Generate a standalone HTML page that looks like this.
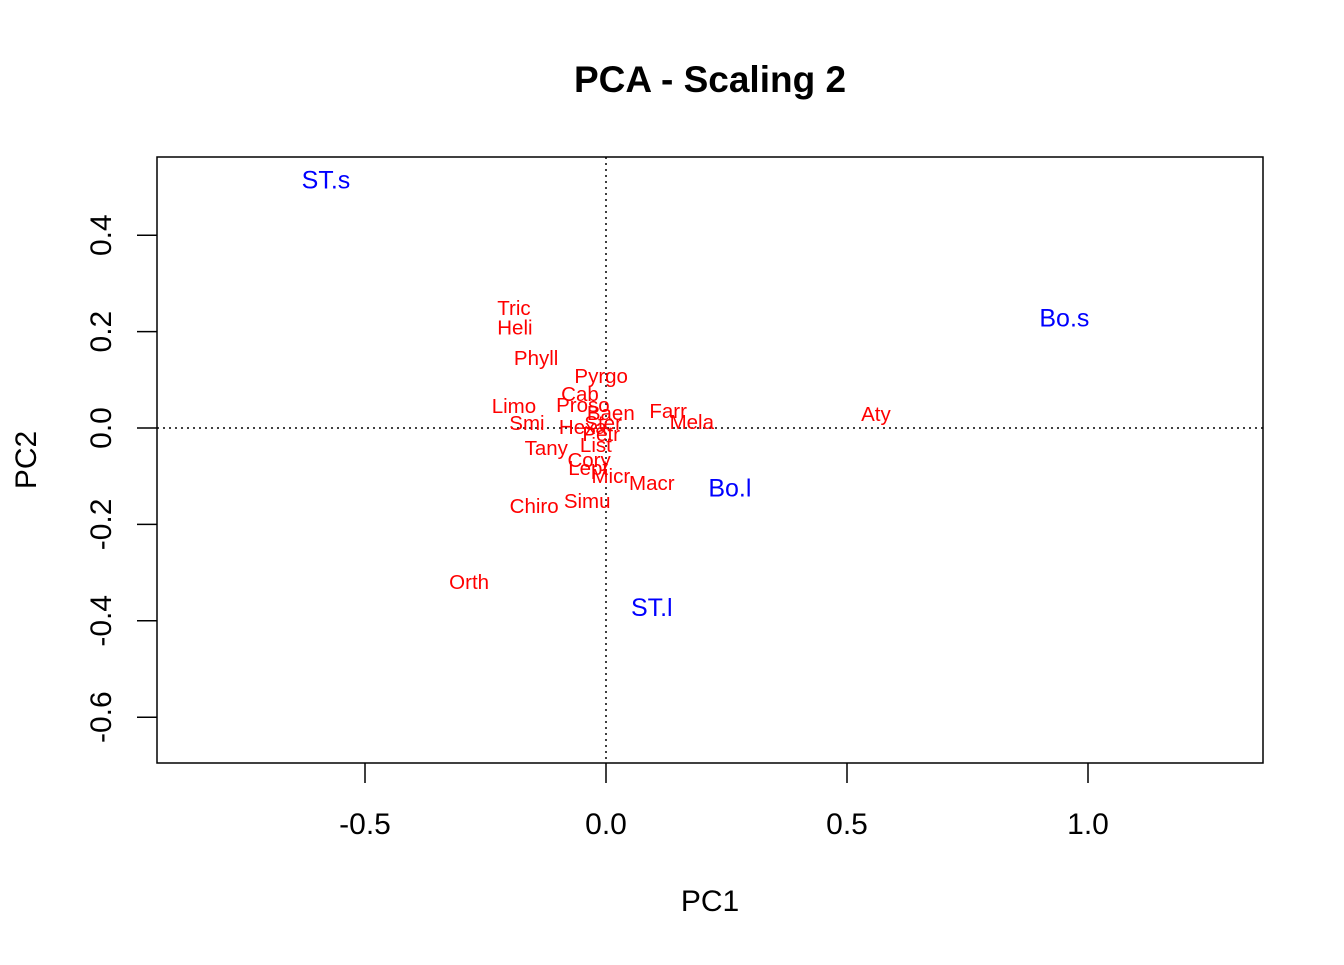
<!DOCTYPE html>
<html><head><meta charset="utf-8"><style>body{margin:0;background:#fff}svg{font-family:"Liberation Sans",Arial,sans-serif}</style></head>
<body>
<svg id="c" width="1344" height="960">
<text x="710" y="92" text-anchor="middle" font-size="37" font-weight="bold">PCA - Scaling 2</text>
<rect x="157" y="157" width="1106" height="606" fill="none" stroke="#000" stroke-width="1.5"/>
<text x="710" y="911" text-anchor="middle" font-size="30">PC1</text>
<text transform="translate(36,460) rotate(-90)" text-anchor="middle" font-size="30">PC2</text>
<g id="g"></g>
</svg>
<script>
const speciesNames=["Tric","Heli","Phyll","Pyrgo","Cab","Proso","Limo","Baen","Farr","Mela","Aty","Smi","Hexa","Ster","Petr","List","Tany","Cory","Lept","Micr","Macr","Chiro","Simu","Orth"];
const speciesPC1=[-0.191,-0.189,-0.145,-0.010,-0.054,-0.048,-0.191,0.010,0.129,0.178,0.560,-0.164,-0.048,-0.006,-0.010,-0.021,-0.124,-0.035,-0.037,0.010,0.095,-0.149,-0.039,-0.284];
const speciesPC2=[0.249,0.208,0.145,0.108,0.071,0.048,0.046,0.031,0.035,0.012,0.029,0.010,0.002,0.010,-0.012,-0.035,-0.041,-0.066,-0.083,-0.100,-0.114,-0.162,-0.151,-0.320];
const siteNames=["ST.s","Bo.s","Bo.l","ST.l"];
const sitePC1=[-0.581,0.951,0.257,0.095];
const sitePC2=[0.515,0.228,-0.124,-0.372];
const xTicks=[-0.5,0.0,0.5,1.0];
const yTicks=[-0.6,-0.4,-0.2,0.0,0.2,0.4];
const X=v=>606+v*482, Y=v=>428-v*482;
const g=document.getElementById('g'), NS='http://www.w3.org/2000/svg';
function el(t,a,txt){const e=document.createElementNS(NS,t);for(const k in a)e.setAttribute(k,a[k]);if(txt!=null)e.textContent=txt;g.appendChild(e);return e;}
let e=el('line',{x1:157,x2:1263,y1:Y(0),y2:Y(0),stroke:'#000','stroke-dasharray':'2,4','stroke-width':1.5});


e=el('line',{x1:X(0),x2:X(0),y1:157,y2:763,stroke:'#000','stroke-dasharray':'2,4','stroke-width':1.5});


xTicks.forEach(t=>{
 e=el('line',{x1:X(t),x2:X(t),y1:763,y2:783,stroke:'#000','stroke-width':1.5});
 
 
 e=el('text',{x:X(t),y:834,'text-anchor':'middle','font-size':30},t.toFixed(1));
 
 
});
yTicks.forEach(t=>{
 e=el('line',{x1:137,x2:157,y1:Y(t),y2:Y(t),stroke:'#000','stroke-width':1.5});
 
 
 e=el('text',{transform:`translate(111,${Y(t)}) rotate(-90)`,'text-anchor':'middle','font-size':30},t.toFixed(1));
 
 
});
speciesNames.forEach((n,i)=>{
 e=el('text',{x:X(speciesPC1[i]),y:Y(speciesPC2[i])+7,'text-anchor':'middle','font-size':20.5,fill:'#f00'},n);
 
 
});
siteNames.forEach((n,i)=>{
 e=el('text',{x:X(sitePC1[i]),y:Y(sitePC2[i])+8.5,'text-anchor':'middle','font-size':25,fill:'#00f'},n);
 
 
});
</script>
</body></html>
